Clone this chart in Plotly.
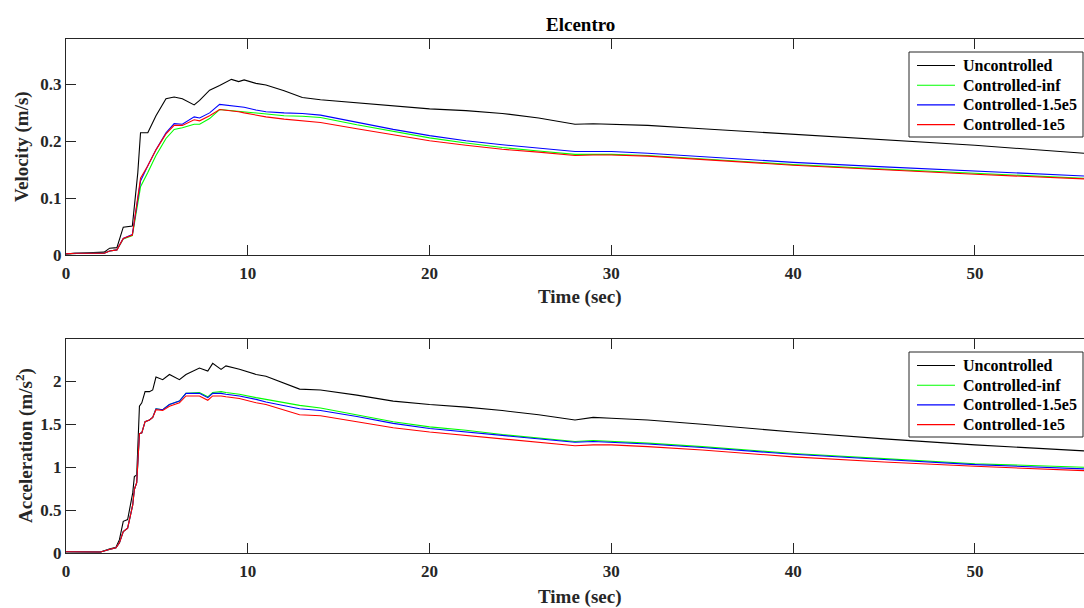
import plotly.graph_objects as go

# ---- Velocity response (m/s) ----
t_vel = [0, 0.5, 2.1, 2.4, 2.8, 3.15, 3.65, 3.95, 4.1, 4.5, 4.95, 5.5, 5.95, 6.4, 7.05,
         7.35, 7.9, 8.45, 9.1, 9.5, 9.8, 10.45, 11, 12, 13, 14, 16, 18, 20, 22, 24, 26,
         28, 29, 30, 32, 35, 40, 45, 50, 56]
vel_unc = [0.002, 0.003, 0.005, 0.012, 0.013, 0.049, 0.051, 0.145, 0.215, 0.215, 0.245,
           0.275, 0.278, 0.275, 0.264, 0.272, 0.290, 0.298, 0.309, 0.305, 0.308, 0.302,
           0.299, 0.289, 0.277, 0.273, 0.268, 0.262, 0.257, 0.254, 0.249, 0.241, 0.230,
           0.231, 0.230, 0.228, 0.222, 0.212, 0.203, 0.193, 0.179]
vel_inf = [0.002, 0.003, 0.003, 0.007, 0.009, 0.028, 0.034, 0.090, 0.120, 0.145, 0.175,
           0.205, 0.221, 0.224, 0.230, 0.230, 0.240, 0.256, 0.254, 0.252, 0.251, 0.249,
           0.247, 0.245, 0.244, 0.242, 0.229, 0.217, 0.206, 0.197, 0.189, 0.183, 0.177,
           0.177, 0.177, 0.175, 0.169, 0.159, 0.151, 0.144, 0.135]
vel_15e5 = [0.002, 0.003, 0.003, 0.007, 0.009, 0.029, 0.036, 0.100, 0.130, 0.157, 0.185,
            0.215, 0.231, 0.230, 0.243, 0.241, 0.250, 0.265, 0.263, 0.262, 0.260, 0.255,
            0.252, 0.250, 0.249, 0.246, 0.233, 0.221, 0.210, 0.201, 0.194, 0.188, 0.182,
            0.182, 0.182, 0.179, 0.173, 0.163, 0.155, 0.148, 0.139]
vel_1e5 = [0.002, 0.003, 0.003, 0.007, 0.009, 0.029, 0.035, 0.100, 0.135, 0.157, 0.185,
           0.213, 0.228, 0.228, 0.238, 0.236, 0.245, 0.256, 0.254, 0.252, 0.250, 0.246,
           0.243, 0.239, 0.236, 0.233, 0.222, 0.211, 0.201, 0.193, 0.186, 0.181, 0.175,
           0.176, 0.176, 0.174, 0.168, 0.158, 0.150, 0.142, 0.134]

# ---- Acceleration response (m/s^2) ----
t_acc = [0, 1.9, 2.38, 2.75, 2.94, 3.15, 3.39, 3.67, 3.76, 3.89, 4.04, 4.17, 4.35, 4.59,
         4.77, 4.95, 5.32, 5.69, 6.24, 6.6, 7.34, 7.8, 8.07, 8.53, 8.8, 9.54, 10.46, 11,
         12.85, 14, 16, 18, 20, 22, 24, 26, 28, 29, 30, 32, 35, 40, 45, 50, 56]
acc_unc = [0.015, 0.012, 0.047, 0.066, 0.155, 0.369, 0.39, 0.70, 0.89, 0.91, 1.71, 1.75,
           1.88, 1.88, 1.90, 2.05, 2.02, 2.08, 2.02, 2.08, 2.155, 2.12, 2.21, 2.14, 2.18,
           2.14, 2.08, 2.06, 1.91, 1.90, 1.84, 1.77, 1.73, 1.70, 1.66, 1.61, 1.55, 1.58,
           1.57, 1.55, 1.50, 1.41, 1.33, 1.26, 1.19]
acc_inf = [0.015, 0.012, 0.04, 0.06, 0.12, 0.25, 0.29, 0.56, 0.74, 0.82, 1.39, 1.40,
           1.53, 1.55, 1.58, 1.68, 1.67, 1.73, 1.77, 1.86, 1.87, 1.82, 1.87, 1.88, 1.87,
           1.85, 1.81, 1.79, 1.72, 1.69, 1.61, 1.53, 1.47, 1.43, 1.38, 1.34, 1.30, 1.31,
           1.30, 1.28, 1.24, 1.16, 1.10, 1.04, 1.00]
acc_15e5 = [0.015, 0.012, 0.04, 0.06, 0.12, 0.25, 0.29, 0.56, 0.74, 0.82, 1.39, 1.40,
            1.53, 1.55, 1.58, 1.68, 1.67, 1.73, 1.77, 1.86, 1.86, 1.81, 1.86, 1.86, 1.85,
            1.83, 1.79, 1.76, 1.68, 1.66, 1.59, 1.51, 1.45, 1.41, 1.37, 1.33, 1.29, 1.30,
            1.29, 1.27, 1.23, 1.15, 1.09, 1.03, 0.98]
acc_1e5 = [0.015, 0.012, 0.04, 0.06, 0.12, 0.25, 0.29, 0.56, 0.74, 0.82, 1.39, 1.40,
           1.53, 1.55, 1.58, 1.67, 1.66, 1.71, 1.75, 1.83, 1.83, 1.78, 1.83, 1.83, 1.82,
           1.80, 1.75, 1.73, 1.61, 1.60, 1.53, 1.46, 1.41, 1.37, 1.33, 1.29, 1.25, 1.26,
           1.26, 1.24, 1.20, 1.12, 1.06, 1.01, 0.96]

names = ["Uncontrolled", "Controlled-inf", "Controlled-1.5e5", "Controlled-1e5"]
colors = ["#000000", "#00ff00", "#0000ff", "#ff0000"]

x_ticks = [0, 10, 20, 30, 40, 50]
vel_ticks = [0, 0.1, 0.2, 0.3]
acc_ticks = [0, 0.5, 1, 1.5, 2]

FONT = "Liberation Serif"
AX = "#262626"
LW = 1.1

fig = go.Figure()
for name, col, y in zip(names, colors, [vel_unc, vel_inf, vel_15e5, vel_1e5]):
    fig.add_trace(go.Scatter(x=t_vel, y=y, mode="lines", name=name,
                             line=dict(color=col, width=LW), xaxis="x", yaxis="y",
                             showlegend=False))
for name, col, y in zip(names, colors, [acc_unc, acc_inf, acc_15e5, acc_1e5]):
    fig.add_trace(go.Scatter(x=t_acc, y=y, mode="lines", name=name,
                             line=dict(color=col, width=LW), xaxis="x2", yaxis="y2",
                             showlegend=False))

W, H = 1084, 608
ML, MR, MT, MB = 66, 0, 39, 55
pw = W - ML - MR
ph = H - MT - MB
top_lo = (553 - 255) / ph
bot_hi = (553 - 339.3) / ph


def bold_labels(vals):
    return ["<b>%g</b>" % v for v in vals]


tick_font = dict(family=FONT, size=17, color=AX)
xcommon = dict(range=[0, 56], tickvals=x_ticks, ticktext=bold_labels(x_ticks),
               ticks="inside", ticklen=10, tickcolor=AX, showline=True, linecolor=AX,
               linewidth=1, mirror="ticks", showgrid=False, zeroline=False,
               tickfont=tick_font, ticklabelstandoff=3)
ycommon = dict(ticks="inside", ticklen=10, tickcolor=AX, showline=True, linecolor=AX,
               linewidth=1, mirror=False, showgrid=False, zeroline=False,
               tickfont=tick_font)

fig.update_layout(
    width=W, height=H,
    margin=dict(l=ML, r=MR, t=MT, b=MB),
    paper_bgcolor="#ffffff", plot_bgcolor="#ffffff",
    showlegend=False,
    xaxis=dict(domain=[0, 1], anchor="y", **xcommon),
    yaxis=dict(domain=[top_lo, 1], anchor="x", range=[0, 0.38],
               tickvals=vel_ticks, ticktext=bold_labels(vel_ticks), **ycommon),
    xaxis2=dict(domain=[0, 1], anchor="y2", **xcommon),
    yaxis2=dict(domain=[0, bot_hi], anchor="x2", range=[0, 2.49],
                tickvals=acc_ticks, ticktext=bold_labels(acc_ticks), **ycommon),
)


def px_x(p):
    return (p - ML) / pw


def px_y(p):
    return 1 - (p - MT) / ph


title_font = dict(family=FONT, size=19, color="#000000")
label_font = dict(family=FONT, size=19, color=AX)
annotations = [
    dict(text="<b>Elcentro</b>", x=px_x(580), y=px_y(24.5), font=title_font),
    dict(text="<b>Time (sec)</b>", x=px_x(580), y=px_y(297), font=label_font),
    dict(text="<b>Time (sec)</b>", x=px_x(580), y=px_y(597), font=label_font),
    dict(text="<b>Velocity (m/s)</b>", x=px_x(22), y=px_y(147), textangle=-90,
         font=label_font),
    dict(text="<b>Acceleration (m/s<sup>2</sup>)</b>", x=px_x(24), y=px_y(446),
         textangle=-90, font=label_font),
]
for a in annotations:
    a.update(xref="paper", yref="paper", showarrow=False, xanchor="center",
             yanchor="middle")

# legend boxes, one per panel
shapes = []
leg_font = dict(family=FONT, size=16, color="#000000")
for top in (52, 352):
    shapes.append(dict(type="rect", xref="paper", yref="paper",
                       x0=px_x(909), x1=px_x(1083), y0=px_y(top + 85), y1=px_y(top),
                       line=dict(color=AX, width=1), fillcolor="#ffffff", layer="above"))
    for i, (name, col) in enumerate(zip(names, colors)):
        yc = top + 13.5 + i * 19.7
        shapes.append(dict(type="line", xref="paper", yref="paper",
                           x0=px_x(917), x1=px_x(955), y0=px_y(yc), y1=px_y(yc),
                           line=dict(color=col, width=LW), layer="above"))
        annotations.append(dict(text="<b>%s</b>" % name, x=px_x(961), y=px_y(yc),
                                xref="paper", yref="paper", showarrow=False,
                                xanchor="left", yanchor="middle", font=leg_font))

fig.update_layout(annotations=annotations, shapes=shapes)

fig.write_html("out.html")
